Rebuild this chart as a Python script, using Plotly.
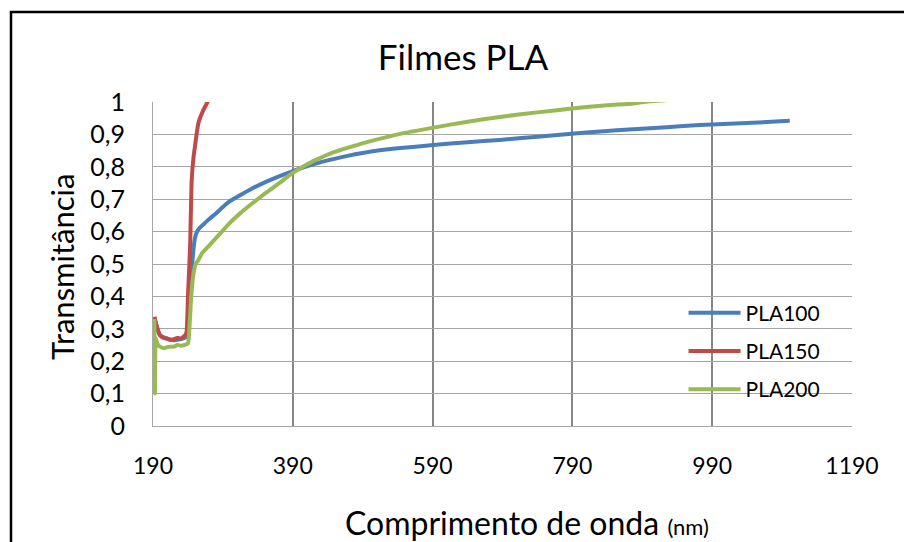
import plotly.graph_objects as go

# ---- data ----
nm_pla100 = [192, 195, 200, 210, 220, 230, 238, 242, 246, 250, 253, 257, 262, 270, 280, 290,
             300, 315, 330, 350, 372, 390, 424, 460, 496, 540, 591, 640, 686, 740, 789, 830,
             877, 925, 972, 1040, 1101]
t_pla100 = [0.335, 0.31, 0.28, 0.27, 0.265, 0.268, 0.275, 0.36, 0.50, 0.58, 0.60, 0.612, 0.622,
            0.638, 0.656, 0.676, 0.694, 0.713, 0.731, 0.752, 0.772, 0.787, 0.811, 0.83, 0.845,
            0.857, 0.867, 0.876, 0.883, 0.893, 0.902, 0.909, 0.916, 0.922, 0.929, 0.935, 0.942]

nm_pla150 = [192, 195, 200, 205, 210, 215, 220, 225, 230, 236, 238, 240, 243, 245.4, 248, 250,
             254.8, 262, 268, 275]
t_pla150 = [0.337, 0.31, 0.28, 0.272, 0.27, 0.266, 0.268, 0.272, 0.27, 0.28, 0.29, 0.40, 0.55,
            0.76, 0.83, 0.862, 0.934, 0.975, 1.0, 1.03]

nm_pla200 = [192, 192.8, 194, 197, 200, 205, 210, 215, 220, 225, 230, 235, 240, 242, 245, 248,
             251, 255, 260, 270, 286, 300, 315, 329, 350, 372, 390, 410, 424, 440, 460, 480,
             496, 540, 591, 640, 686, 740, 789, 840, 877, 891, 950]
t_pla200 = [0.33, 0.10, 0.27, 0.25, 0.245, 0.24, 0.243, 0.245, 0.245, 0.25, 0.248, 0.25, 0.255,
            0.30, 0.41, 0.47, 0.50, 0.512, 0.533, 0.556, 0.594, 0.627, 0.657, 0.682, 0.717,
            0.752, 0.781, 0.807, 0.822, 0.838, 0.853, 0.866, 0.876, 0.9, 0.921, 0.939, 0.954,
            0.968, 0.98, 0.99, 0.995, 1.0, 1.01]

series_names = ["PLA100", "PLA150", "PLA200"]
series_colors = ["#4a7ebb", "#be4b48", "#98b954"]

x_ticks = [190, 390, 590, 790, 990, 1190]

FONT = "Lato"

fig = go.Figure()
for name, xs, ys, col in zip(series_names,
                             [nm_pla100, nm_pla150, nm_pla200],
                             [t_pla100, t_pla150, t_pla200],
                             series_colors):
    fig.add_trace(go.Scatter(x=xs, y=ys, mode="lines", name=name, legendgroup=name,
                             line=dict(color=col, width=4, shape="spline", smoothing=0.5)))

fig.update_layout(
    width=904, height=542,
    margin=dict(l=153, r=52, t=102, b=116),
    paper_bgcolor="white", plot_bgcolor="white",
    separators=",.",
    font=dict(family=FONT, color="black"),
    title=dict(text="Filmes PLA", x=463 / 904, xanchor="center", y=1 - 58 / 542, yanchor="middle",
               font=dict(family=FONT, size=35, color="black")),
    showlegend=True,
    legend=dict(x=0.759, xanchor="left", y=0.412, yanchor="top",
                bgcolor="rgba(0,0,0,0)", font=dict(family=FONT, size=21, color="black"),
                traceorder="grouped", tracegroupgap=8, itemwidth=52),
    xaxis=dict(range=[190, 1190], tickmode="array", tickvals=x_ticks,
               ticktext=[str(v) for v in x_ticks],
               showgrid=True, gridcolor="#868686", gridwidth=2,
               showline=True, linecolor="#a6a6a6", linewidth=1, mirror=False,
               ticks="outside", ticklen=19, tickcolor="rgba(0,0,0,0)",
               tickfont=dict(family=FONT, size=23, color="black"), zeroline=False),
    yaxis=dict(range=[0, 1], dtick=0.1, tick0=0,
               showgrid=True, gridcolor="#a6a6a6", gridwidth=1,
               showline=True, linecolor="#a6a6a6", linewidth=1,
               ticks="outside", ticklen=22, tickcolor="rgba(0,0,0,0)",
               tickfont=dict(family=FONT, size=25, color="black"), zeroline=False),
    annotations=[
        dict(text="Comprimento de onda <span style='font-size:22px'>(nm)</span>",
             xref="paper", yref="paper", x=(527 - 153) / 699, y=(426 - 522) / 324,
             xanchor="center", yanchor="middle", showarrow=False,
             font=dict(family=FONT, size=32, color="black")),
        dict(text="Transmitância", xref="paper", yref="paper",
             x=(62 - 153) / 699, y=(426 - 267) / 324, textangle=-90,
             xanchor="center", yanchor="middle", showarrow=False,
             font=dict(family=FONT, size=31, color="black")),
    ],
    shapes=[
        # outer chart-area border
        dict(type="rect", xref="paper", yref="paper",
             x0=(11 - 153) / 699, x1=1.5, y0=-1.0, y1=(426 - 12) / 324,
             line=dict(color="black", width=2.5), fillcolor="rgba(0,0,0,0)", layer="below"),
        # legend box hides the vertical gridline behind it
        dict(type="line", xref="x", yref="paper", x0=990, x1=990, y0=0.049, y1=0.41,
             line=dict(color="white", width=3), layer="between"),
    ],
)

fig.write_html("out.html")
